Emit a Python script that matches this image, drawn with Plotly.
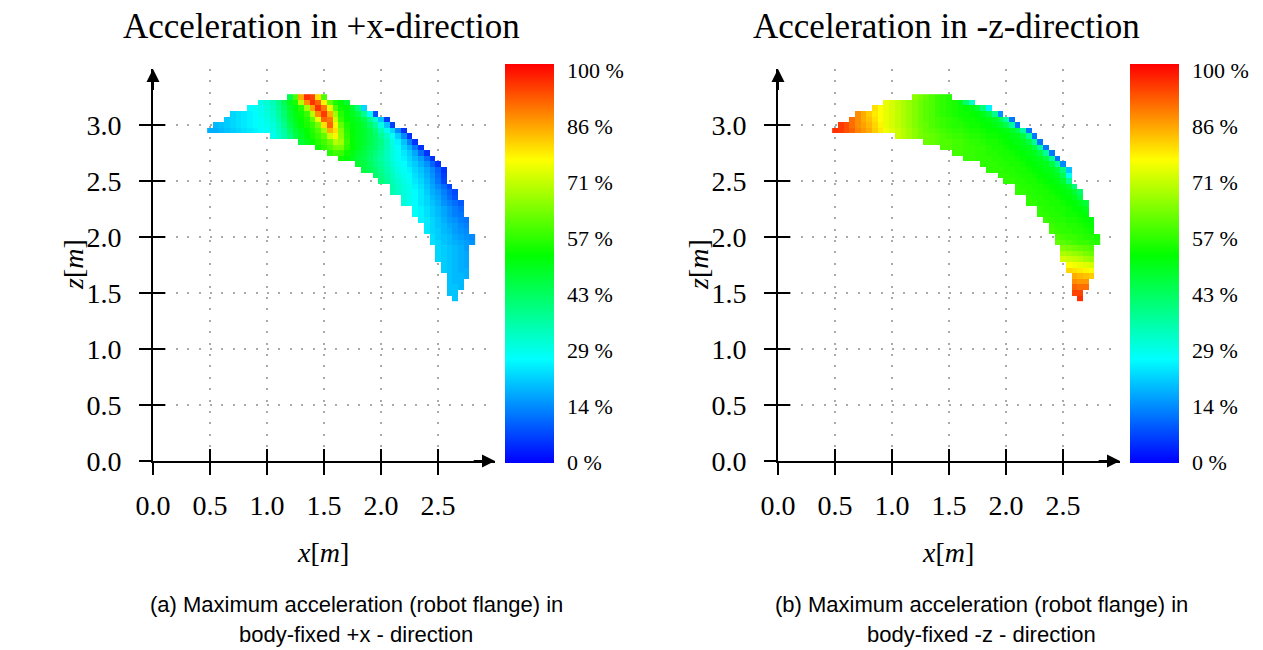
import plotly.graph_objects as go

# ---------------------------------------------------------------- data
# Workspace grid: cell step 0.05 m.
# z [m] of every grid row (cell centres), top to bottom
z_rows = [3.25, 3.20, 3.15, 3.10, 3.05, 3.00, 2.95, 2.90, 2.85, 2.80,
          2.75, 2.70, 2.65, 2.60, 2.55, 2.50, 2.45, 2.40, 2.35, 2.30,
          2.25, 2.20, 2.15, 2.10, 2.05, 2.00, 1.95, 1.90, 1.85, 1.80,
          1.75, 1.70, 1.65, 1.60, 1.55, 1.50, 1.45]
# x [m] of the first reachable cell of every row
x_first = [1.20, 0.95, 0.85, 0.70, 0.65, 0.55, 0.50, 1.05, 1.30, 1.45,
           1.55, 1.65, 1.80, 1.85, 1.95, 2.00, 2.10, 2.10, 2.20, 2.20,
           2.30, 2.30, 2.35, 2.40, 2.40, 2.45, 2.45, 2.50, 2.50, 2.50,
           2.55, 2.55, 2.60, 2.60, 2.60, 2.60, 2.65]
GRID_STEP = 0.05

# maximum acceleration of the robot flange [% of maximum], body-fixed +x
acc_plus_x = [
    [45, 60, 85, 97, 95, 80, 60],
    [29, 31, 34, 38, 44, 50, 55, 70, 88, 97, 92, 78, 62, 55, 52, 48],
    [26, 27, 28, 30, 33, 37, 42, 48, 52, 56, 68, 86, 97, 90, 75, 60, 54, 52, 48, 40, 22],
    [22, 23, 24, 25, 26, 28, 30, 32, 36, 41, 47, 51, 54, 58, 70, 88, 96, 85, 68, 56, 52, 50, 46, 38, 26, 8],
    [21, 22, 23, 24, 25, 26, 27, 29, 31, 35, 40, 46, 50, 53, 56, 62, 75, 92, 90, 72, 58, 53, 51, 49, 45, 38, 30, 20, 6],
    [19, 20, 21, 22, 23, 24, 25, 26, 27, 28, 30, 33, 38, 44, 49, 52, 55, 58, 64, 80, 92, 78, 62, 55, 52, 50, 47, 42, 36, 29, 20, 6],
    [18, 18, 19, 20, 21, 22, 23, 24, 25, 26, 27, 29, 32, 36, 42, 47, 50, 53, 56, 60, 68, 85, 80, 65, 56, 52, 50, 48, 45, 40, 34, 28, 22, 14, 5],
    [28, 31, 35, 40, 45, 49, 52, 55, 58, 62, 72, 78, 66, 57, 53, 50, 48, 45, 42, 37, 32, 27, 21, 14, 5],
    [47, 50, 53, 56, 59, 63, 70, 68, 58, 53, 50, 48, 45, 42, 39, 34, 29, 25, 20, 13, 5],
    [54, 57, 60, 64, 64, 57, 53, 50, 47, 44, 42, 38, 34, 30, 26, 22, 18, 12, 5],
    [56, 59, 58, 54, 51, 48, 46, 43, 40, 37, 33, 30, 27, 24, 21, 17, 11, 5],
    [54, 52, 50, 47, 45, 42, 39, 36, 33, 30, 27, 25, 22, 19, 16, 11, 5],
    [48, 46, 43, 40, 37, 34, 31, 28, 26, 23, 21, 18, 15, 10, 5],
    [46, 44, 41, 38, 35, 32, 29, 27, 25, 22, 20, 17, 14, 10, 5],
    [42, 39, 36, 33, 30, 28, 26, 23, 21, 18, 15, 11, 6],
    [40, 37, 34, 31, 29, 27, 24, 22, 19, 16, 12, 7],
    [35, 32, 30, 28, 25, 23, 20, 17, 14, 11, 7],
    [35, 32, 30, 28, 26, 24, 21, 18, 16, 13, 10, 7],
    [30, 28, 26, 24, 22, 19, 17, 14, 11, 8],
    [30, 28, 26, 24, 22, 20, 18, 15, 13, 11, 9],
    [27, 25, 23, 21, 19, 17, 15, 13, 11],
    [27, 25, 23, 21, 19, 17, 15, 13, 12],
    [25, 24, 22, 20, 18, 16, 15, 13, 12],
    [24, 22, 20, 19, 17, 16, 14, 13],
    [24, 22, 21, 19, 18, 16, 15, 14],
    [23, 21, 20, 19, 17, 16, 15, 14],
    [23, 22, 20, 19, 18, 17, 16, 15],
    [22, 21, 20, 19, 18, 16],
    [22, 21, 20, 19, 18, 17],
    [22, 21, 20, 19, 18, 17],
    [21, 20, 19, 18, 17],
    [21, 20, 19, 18, 18],
    [20, 19, 19, 18],
    [20, 19, 19],
    [20, 20, 19],
    [20, 20],
    [20],
]

# maximum acceleration of the robot flange [% of maximum], body-fixed -z
acc_minus_z = [
    [66, 64, 62, 60, 58, 57, 56],
    [75, 73, 71, 69, 67, 65, 63, 61, 60, 58, 57, 56, 55, 50, 42, 32],
    [80, 77, 75, 73, 71, 69, 67, 65, 63, 61, 60, 58, 57, 56, 55, 54, 53, 51, 47, 40, 25],
    [88, 85, 82, 79, 77, 75, 73, 71, 69, 67, 65, 63, 61, 60, 58, 57, 56, 55, 54, 54, 53, 52, 50, 46, 38, 15],
    [91, 88, 85, 83, 80, 77, 75, 73, 71, 69, 67, 65, 63, 61, 60, 59, 58, 57, 56, 55, 54, 54, 53, 52, 51, 49, 45, 36, 12],
    [96, 94, 91, 88, 86, 84, 81, 78, 75, 73, 71, 69, 67, 65, 63, 62, 60, 59, 58, 57, 56, 56, 55, 54, 54, 53, 52, 51, 49, 45, 36, 12],
    [97, 96, 94, 92, 89, 87, 85, 82, 79, 76, 74, 72, 70, 68, 66, 64, 62, 61, 60, 59, 58, 57, 57, 56, 55, 55, 54, 53, 53, 52, 51, 49, 45, 36, 12],
    [72, 70, 68, 66, 64, 63, 62, 61, 60, 59, 58, 58, 57, 56, 56, 55, 54, 54, 53, 52, 51, 50, 46, 37, 12],
    [63, 62, 61, 60, 60, 59, 59, 58, 57, 57, 56, 55, 55, 54, 53, 52, 51, 50, 46, 37, 12],
    [60, 60, 59, 59, 58, 58, 57, 57, 56, 55, 55, 54, 53, 52, 51, 50, 46, 37, 12],
    [59, 59, 58, 58, 57, 57, 56, 56, 55, 55, 54, 53, 52, 51, 50, 46, 37, 12],
    [58, 58, 57, 57, 57, 56, 56, 55, 55, 54, 53, 52, 51, 50, 46, 37, 12],
    [57, 57, 57, 56, 56, 55, 55, 54, 53, 52, 51, 50, 46, 37, 14],
    [57, 57, 57, 56, 56, 55, 55, 54, 53, 52, 51, 50, 47, 40, 20],
    [57, 57, 56, 56, 55, 55, 54, 53, 52, 51, 49, 44, 28],
    [57, 57, 56, 56, 55, 55, 54, 53, 52, 51, 48, 38],
    [57, 56, 56, 55, 55, 54, 53, 52, 51, 48, 40],
    [57, 57, 56, 56, 55, 55, 54, 53, 52, 51, 48, 42],
    [57, 56, 56, 55, 55, 54, 53, 52, 50, 46],
    [57, 57, 56, 56, 55, 55, 54, 53, 52, 50, 47],
    [57, 56, 56, 55, 55, 54, 53, 52, 50],
    [57, 57, 56, 56, 55, 54, 54, 53, 52],
    [58, 57, 56, 56, 55, 55, 54, 53, 52],
    [58, 57, 57, 56, 56, 55, 54, 53],
    [59, 58, 57, 57, 56, 56, 55, 54],
    [60, 59, 58, 58, 57, 56, 56, 55],
    [62, 61, 60, 59, 58, 58, 57, 56],
    [65, 64, 63, 62, 61, 60],
    [69, 68, 67, 66, 64, 63],
    [73, 72, 71, 70, 68, 67],
    [77, 76, 75, 74, 73],
    [81, 80, 79, 78, 77],
    [85, 84, 83, 82],
    [88, 87, 87],
    [92, 91, 91],
    [95, 95],
    [97],
]

x_tick_vals = [0.0, 0.5, 1.0, 1.5, 2.0, 2.5]
x_tick_text = ["0.0", "0.5", "1.0", "1.5", "2.0", "2.5"]
z_tick_vals = [0.0, 0.5, 1.0, 1.5, 2.0, 2.5, 3.0]
z_tick_text = ["0.0", "0.5", "1.0", "1.5", "2.0", "2.5", "3.0"]
cb_tick_vals = [0, 100 / 7, 200 / 7, 300 / 7, 400 / 7, 500 / 7, 600 / 7, 100]
cb_tick_text = ["0 %", "14 %", "29 %", "43 %", "57 %", "71 %", "86 %", "100 %"]

panel_titles = ["Acceleration in +x-direction", "Acceleration in -z-direction"]
captions = [("(a) Maximum acceleration (robot flange) in", "body-fixed +x - direction"),
            ("(b) Maximum acceleration (robot flange) in", "body-fixed -z - direction")]

# ---------------------------------------------------------------- grid
for a, b in zip(acc_plus_x, acc_minus_z):
    assert len(a) == len(b)

x_min = min(x_first)
x_max = max(x0 + GRID_STEP * (len(r) - 1) for x0, r in zip(x_first, acc_plus_x))
n_cols = int(round((x_max - x_min) / GRID_STEP)) + 1
x_grid = [round(x_min + i * GRID_STEP, 2) for i in range(n_cols)]


def to_grid(values):
    rows = {}
    for z, x0, r in zip(z_rows, x_first, values):
        line = [None] * n_cols
        i0 = int(round((x0 - x_min) / GRID_STEP))
        for k, v in enumerate(r):
            line[i0 + k] = v
        rows[z] = line
    zs = sorted(rows)
    return zs, [rows[z] for z in zs]


# ---------------------------------------------------------------- style
W, H = 1263, 650
SERIF = "Liberation Serif, Times New Roman, serif"
SANS = "Liberation Sans, Arial, sans-serif"
jet = [[0.0, "rgb(0,0,255)"], [0.26, "rgb(0,255,255)"], [0.52, "rgb(0,255,0)"],
       [0.76, "rgb(255,255,0)"], [1.0, "rgb(255,0,0)"]]
GRID = dict(showgrid=True, gridcolor="#a9a9a9", gridwidth=2, griddash="2px,9.4px")

panel_left_px = [153, 778]      # pixel of x = 0 for each panel
plot_w_px, x_range = 342, [0, 3.0]
y_top_px, y_bot_px, z_range = 69, 461, [0, 3.5]
cb_off_px, cb_w_px, cb_top_px, cb_bot_px = 352, 49, 64, 463

fig = go.Figure()
layout = dict(width=W, height=H, margin=dict(l=0, r=0, t=0, b=0, autoexpand=False),
              paper_bgcolor="white", plot_bgcolor="white", showlegend=False)
annotations = []


def paper_text(px, py, text, family, size, **kw):
    return dict(x=px / W, y=1 - py / H, xref="paper", yref="paper",
                xanchor="center", yanchor="middle", text=text, showarrow=False,
                font=dict(family=family, size=size, color="black"), **kw)


for p, (vals, title, cap) in enumerate(zip([acc_plus_x, acc_minus_z], panel_titles, captions)):
    n = 2 * p + 1
    xa, ya = ("x" if n == 1 else f"x{n}"), ("y" if n == 1 else f"y{n}")
    xo, yo = f"x{n + 1}", f"y{n + 1}"
    left = panel_left_px[p]
    xdom = [left / W, (left + plot_w_px) / W]
    ydom = [1 - y_bot_px / H, 1 - y_top_px / H]

    zs, zgrid = to_grid(vals)
    fig.add_trace(go.Heatmap(
        x=x_grid, y=zs, z=zgrid, xaxis=xa, yaxis=ya,
        colorscale=jet, zmin=-0.3, zmax=101.5, zsmooth=False, hoverinfo="skip",
        colorbar=dict(x=(left + cb_off_px) / W, xanchor="left",
                      y=1 - cb_bot_px / H, yanchor="bottom",
                      len=(cb_bot_px - cb_top_px) / H, lenmode="fraction",
                      thickness=cb_w_px, thicknessmode="pixels",
                      xpad=0, ypad=0, outlinewidth=0,
                      tickvals=cb_tick_vals, ticktext=cb_tick_text,
                      ticks="outside", ticklen=9, tickcolor="rgba(0,0,0,0)",
                      tickfont=dict(family=SERIF, size=22, color="black"))))
    # empty trace so that the overlay axes (inner half of the crossing ticks) exist
    fig.add_trace(go.Scatter(x=[], y=[], xaxis=xo, yaxis=yo, mode="markers",
                             showlegend=False, hoverinfo="skip"))

    common = dict(showline=True, linecolor="black", linewidth=2,
                  ticks="outside", ticklen=12, tickwidth=1.5, tickcolor="black",
                  zeroline=False, fixedrange=True, automargin=False,
                  tickfont=dict(family=SERIF, size=28, color="black"), **GRID)
    key_x = "xaxis" if n == 1 else f"xaxis{n}"
    key_y = "yaxis" if n == 1 else f"yaxis{n}"
    layout[key_x] = dict(domain=xdom, range=x_range, anchor=ya,
                         tickmode="array", tickvals=x_tick_vals, ticktext=x_tick_text,
                         ticklabelstandoff=6,
                         minor=dict(tickmode="array", tickvals=[3.0], ticks="", **GRID),
                         **common)
    layout[key_y] = dict(domain=ydom, range=z_range, anchor=xa,
                         tickmode="array", tickvals=z_tick_vals, ticktext=z_tick_text,
                         ticklabelstandoff=12,
                         minor=dict(tickmode="array", tickvals=[3.5], ticks="", **GRID),
                         **common)
    inner = dict(ticks="inside", ticklen=12, tickwidth=1.5, tickcolor="black",
                 showticklabels=False, showgrid=False, showline=False,
                 zeroline=False, fixedrange=True, tickmode="array", automargin=False)
    layout[f"xaxis{n + 1}"] = dict(overlaying=xa, anchor=ya, range=x_range,
                                   tickvals=x_tick_vals, **inner)
    layout[f"yaxis{n + 1}"] = dict(overlaying=ya, anchor=xa, range=z_range,
                                   tickvals=z_tick_vals, **inner)

    # axis arrows
    annotations.append(dict(x=x_range[1], y=0, ax=x_range[1] - 0.2, ay=0,
                            xref=xa, yref=ya, axref=xa, ayref=ya, text="",
                            showarrow=True, arrowhead=2, arrowsize=1.3,
                            arrowwidth=2, arrowcolor="black", standoff=0))
    annotations.append(dict(x=0, y=z_range[1], ax=0, ay=z_range[1] - 0.2,
                            xref=xa, yref=ya, axref=xa, ayref=ya, text="",
                            showarrow=True, arrowhead=2, arrowsize=1.3,
                            arrowwidth=2, arrowcolor="black", standoff=0))
    # axis titles
    annotations.append(paper_text(left + 170, 552, "<i>x</i>[<i>m</i>]", SERIF, 28))
    annotations.append(paper_text(left - 80, 265, "<i>z</i>[<i>m</i>]", SERIF, 28,
                                  textangle=-90))
    # panel title
    annotations.append(paper_text(left + 168, 27, title, SERIF, 35))
    # caption below the panel
    for k, line in enumerate(cap):
        annotations.append(paper_text(left + 203, 604 + 30 * k, line, SANS, 22))

layout["annotations"] = annotations
fig.update_layout(**layout)
fig.write_html("out.html")
